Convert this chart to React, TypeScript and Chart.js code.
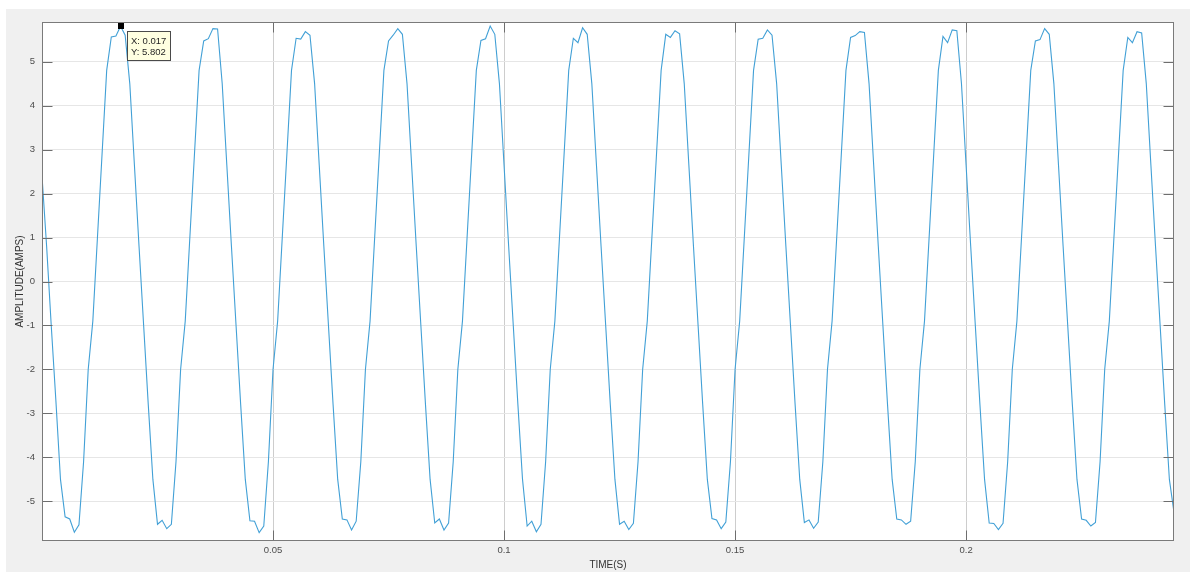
import React, { useEffect, useRef } from "react";
import { Chart, registerables } from "chart.js";

Chart.register(...registerables);

// Sampling interval of the recorded current (s)
const SAMPLE_STEP_S = 0.001;

// Current samples (A), one line per cycle (trough shoulder -> rise -> peak -> fall)
const CURRENT_AMPS: number[] = [
  2.4, 0.8, -1.0, -2.7, -4.5,
  -5.35, -5.40, -5.70, -5.53, -4.1, -2.0, -0.9, 1.0, 2.9, 4.8, 5.56, 5.58, 5.802, 5.60, 4.5, 2.65, 0.8, -1.0, -2.8, -4.5,
  -5.52, -5.43, -5.62, -5.52, -4.1, -2.0, -0.9, 1.0, 2.9, 4.8, 5.47, 5.52, 5.75, 5.74, 4.5, 2.65, 0.8, -1.0, -2.8, -4.5,
  -5.44, -5.45, -5.71, -5.56, -4.1, -2.0, -0.9, 1.0, 2.9, 4.8, 5.53, 5.51, 5.68, 5.60, 4.5, 2.65, 0.8, -1.0, -2.8, -4.5,
  -5.40, -5.42, -5.65, -5.45, -4.1, -2.0, -0.9, 1.0, 2.9, 4.8, 5.47, 5.60, 5.75, 5.62, 4.5, 2.65, 0.8, -1.0, -2.8, -4.5,
  -5.49, -5.40, -5.65, -5.49, -4.1, -2.0, -0.9, 1.0, 2.9, 4.8, 5.48, 5.52, 5.81, 5.62, 4.5, 2.65, 0.8, -1.0, -2.8, -4.5,
  -5.56, -5.45, -5.69, -5.52, -4.1, -2.0, -0.9, 1.0, 2.9, 4.8, 5.53, 5.43, 5.77, 5.62, 4.5, 2.65, 0.8, -1.0, -2.8, -4.5,
  -5.52, -5.45, -5.64, -5.50, -4.1, -2.0, -0.9, 1.0, 2.9, 4.8, 5.62, 5.55, 5.70, 5.63, 4.5, 2.65, 0.8, -1.0, -2.8, -4.5,
  -5.39, -5.42, -5.62, -5.47, -4.1, -2.0, -0.9, 1.0, 2.9, 4.8, 5.51, 5.53, 5.72, 5.60, 4.5, 2.65, 0.8, -1.0, -2.8, -4.5,
  -5.48, -5.42, -5.61, -5.47, -4.1, -2.0, -0.9, 1.0, 2.9, 4.8, 5.55, 5.59, 5.68, 5.66, 4.5, 2.65, 0.8, -1.0, -2.8, -4.5,
  -5.40, -5.42, -5.52, -5.45, -4.1, -2.0, -0.9, 1.0, 2.9, 4.8, 5.57, 5.43, 5.72, 5.70, 4.5, 2.65, 0.8, -1.0, -2.8, -4.5,
  -5.49, -5.50, -5.64, -5.50, -4.1, -2.0, -0.9, 1.0, 2.9, 4.8, 5.47, 5.50, 5.75, 5.62, 4.5, 2.65, 0.8, -1.0, -2.8, -4.5,
  -5.40, -5.43, -5.56, -5.48, -4.1, -2.0, -0.9, 1.0, 2.9, 4.8, 5.55, 5.43, 5.68, 5.65, 4.5, 2.65, 0.8, -1.0, -2.8, -4.5,
  -5.25,
];

const X_RANGE = [0, 0.245];
const Y_RANGE = [-5.9, 5.9];
const X_TICKS = [0.05, 0.1, 0.15, 0.2];
const X_TICK_LABELS = ["0.05", "0.1", "0.15", "0.2"];
const Y_TICKS = [-5, -4, -3, -2, -1, 0, 1, 2, 3, 4, 5];
const Y_TICK_LABELS = ["-5", "-4", "-3", "-2", "-1", "0", "1", "2", "3", "4", "5"];
const X_TITLE = "TIME(S)";
const Y_TITLE = "AMPLITUDE(AMPS)";
const DATA_TIP = { x: 0.017, y: 5.802, xLabel: "X: 0.017", yLabel: "Y: 5.802" };

const FONT = '"Liberation Sans", Arial, Helvetica, sans-serif';

const matlabAxes = {
  id: "matlabAxes",
  beforeDraw(chart: any) {
    const { ctx, chartArea: a } = chart;
    ctx.save();
    ctx.fillStyle = "#ffffff";
    ctx.fillRect(a.left, a.top, a.right - a.left, a.bottom - a.top);
    ctx.restore();
  },
  afterDatasetsDraw(chart: any) {
    const { ctx, chartArea: a, scales } = chart;
    const L = Math.round(a.left) + 0.5;
    const R = Math.round(a.right) - 0.5;
    const T = Math.round(a.top) + 0.5;
    const B = Math.round(a.bottom) - 0.5;
    const len = 10;
    ctx.save();
    ctx.lineWidth = 1;
    ctx.strokeStyle = "#6e6e6e";
    ctx.beginPath();
    for (const v of Y_TICKS) {
      const py = Math.round(scales.y.getPixelForValue(v)) + 0.5;
      ctx.moveTo(L, py);
      ctx.lineTo(L + len, py);
      ctx.moveTo(R, py);
      ctx.lineTo(R - len, py);
    }
    for (const v of X_TICKS) {
      const px = Math.round(scales.x.getPixelForValue(v)) + 0.5;
      ctx.moveTo(px, B);
      ctx.lineTo(px, B - len);
      ctx.moveTo(px, T);
      ctx.lineTo(px, T + len);
    }
    ctx.stroke();
    ctx.strokeStyle = "#7a7a7a";
    ctx.strokeRect(L, T, R - L, B - T);
    ctx.restore();
  },
  afterDraw(chart: any) {
    const { ctx, scales } = chart;
    const px = scales.x.getPixelForValue(DATA_TIP.x);
    const py = scales.y.getPixelForValue(DATA_TIP.y);
    ctx.save();
    ctx.fillStyle = "#000000";
    ctx.fillRect(Math.round(px - 3), Math.round(py - 3), 6, 6);
    const x0 = Math.round(px + 6) + 0.5;
    const y0 = Math.round(py + 5) + 0.5;
    ctx.fillStyle = "#ffffe1";
    ctx.fillRect(x0, y0, 43, 29);
    ctx.strokeStyle = "#4a4a4a";
    ctx.lineWidth = 1;
    ctx.strokeRect(x0, y0, 43, 29);
    ctx.fillStyle = "#262626";
    ctx.font = `9.5px ${FONT}`;
    ctx.textBaseline = "middle";
    ctx.textAlign = "left";
    ctx.fillText(DATA_TIP.xLabel, x0 + 3.5, y0 + 9.5);
    ctx.fillText(DATA_TIP.yLabel, x0 + 3.5, y0 + 20.5);
    ctx.restore();
  },
};

export default function App() {
  const canvasRef = useRef<HTMLCanvasElement | null>(null);

  useEffect(() => {
    if (!canvasRef.current) return;
    const points = CURRENT_AMPS.map((v, i) => ({ x: +(i * SAMPLE_STEP_S).toFixed(3), y: v }));
    const chart = new Chart(canvasRef.current, {
      type: "line",
      data: {
        datasets: [
          {
            data: points,
            borderColor: "#42a0d6",
            borderWidth: 1.1,
            pointRadius: 0,
            tension: 0,
            fill: false,
          },
        ],
      },
      options: {
        animation: false,
        responsive: false,
        devicePixelRatio: 1,
        parsing: false,
        normalized: true,
        layout: { padding: { left: 0, right: 22, top: 22, bottom: 0 } },
        plugins: { legend: { display: false }, tooltip: { enabled: false } },
        events: [],
        scales: {
          x: {
            type: "linear",
            min: X_RANGE[0],
            max: X_RANGE[1],
            afterBuildTicks: (scale: any) => {
              scale.ticks = X_TICKS.map((v) => ({ value: v }));
            },
            afterFit: (scale: any) => {
              scale.height = 31;
            },
            ticks: {
              callback: (_v: any, i: number) => X_TICK_LABELS[i],
              padding: 4,
              maxRotation: 0,
              autoSkip: false,
              color: "#4d4d4d",
              font: { family: FONT, size: 9.5 },
            },
            grid: { color: "#cdcdcd", drawTicks: false, lineWidth: 1 },
            border: { display: false },
            title: {
              display: true,
              text: X_TITLE,
              color: "#333333",
              font: { family: FONT, size: 10 },
              padding: { top: 0, bottom: 1 },
            },
          },
          y: {
            type: "linear",
            min: Y_RANGE[0],
            max: Y_RANGE[1],
            afterBuildTicks: (scale: any) => {
              scale.ticks = Y_TICKS.map((v) => ({ value: v }));
            },
            afterFit: (scale: any) => {
              scale.width = 42;
            },
            ticks: {
              callback: (_v: any, i: number) => Y_TICK_LABELS[i],
              padding: 7,
              autoSkip: false,
              color: "#4d4d4d",
              font: { family: FONT, size: 9.5 },
            },
            grid: { color: "#e6e6e6", drawTicks: false, lineWidth: 1 },
            border: { display: false },
            title: {
              display: true,
              text: Y_TITLE,
              color: "#333333",
              font: { family: FONT, size: 10 },
              padding: { top: 14, bottom: 0 },
            },
          },
        },
      },
      plugins: [matlabAxes],
    } as any);
    return () => chart.destroy();
  }, []);

  return (
    <div style={{ position: "fixed", left: 0, top: 0, width: 1196, height: 572, background: "#ffffff", overflow: "hidden" }}>
      <div style={{ position: "absolute", left: 6, top: 9, width: 1184, height: 563, background: "#f0f0f0" }} />
      <canvas ref={canvasRef} width={1196} height={572} style={{ position: "absolute", left: 0, top: 0, width: 1196, height: 572 }} />
    </div>
  );
}
